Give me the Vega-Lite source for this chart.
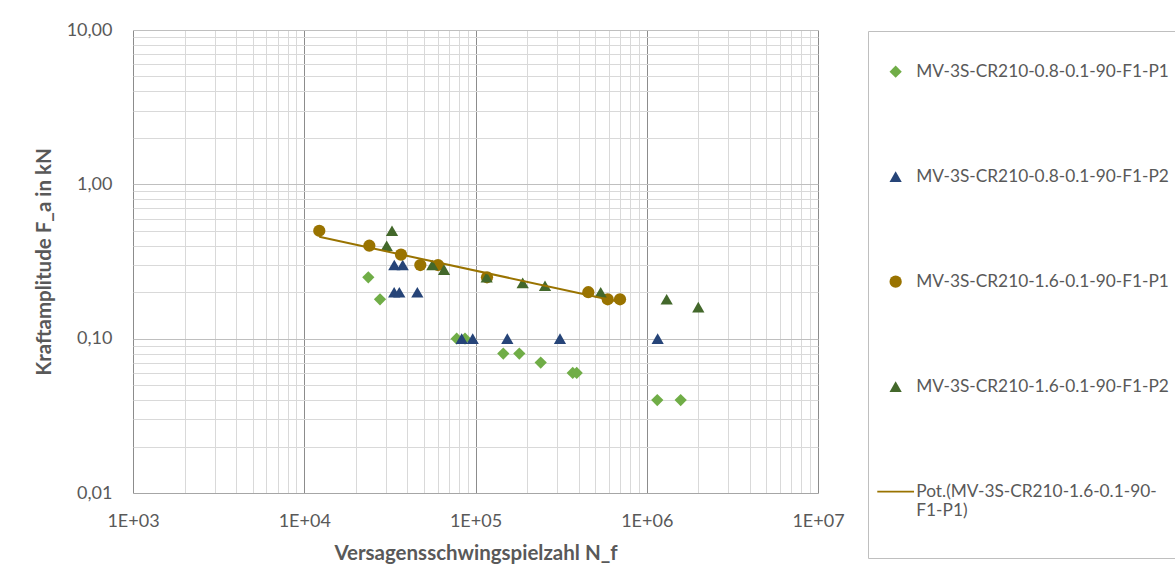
{
  "$schema": "https://vega.github.io/schema/vega-lite/v6.json",
  "width": 685,
  "height": 463,
  "autosize": {"type": "none"},
  "padding": {"left": 133, "top": 30, "right": 357, "bottom": 93},
  "background": "white",
  "config": {"view": {"stroke": null}, "font": "Lato"},
  "datasets": {
    "points": [
      {"series": "MV-3S-CR210-0.8-0.1-90-F1-P1", "N_f": 23660, "F_a": 0.25},
      {"series": "MV-3S-CR210-0.8-0.1-90-F1-P1", "N_f": 27690, "F_a": 0.18},
      {"series": "MV-3S-CR210-0.8-0.1-90-F1-P1", "N_f": 77650, "F_a": 0.1},
      {"series": "MV-3S-CR210-0.8-0.1-90-F1-P1", "N_f": 86850, "F_a": 0.1},
      {"series": "MV-3S-CR210-0.8-0.1-90-F1-P1", "N_f": 145300, "F_a": 0.08},
      {"series": "MV-3S-CR210-0.8-0.1-90-F1-P1", "N_f": 180200, "F_a": 0.08},
      {"series": "MV-3S-CR210-0.8-0.1-90-F1-P1", "N_f": 240300, "F_a": 0.07},
      {"series": "MV-3S-CR210-0.8-0.1-90-F1-P1", "N_f": 369600, "F_a": 0.06},
      {"series": "MV-3S-CR210-0.8-0.1-90-F1-P1", "N_f": 389900, "F_a": 0.06},
      {"series": "MV-3S-CR210-0.8-0.1-90-F1-P1", "N_f": 1152000, "F_a": 0.04},
      {"series": "MV-3S-CR210-0.8-0.1-90-F1-P1", "N_f": 1578000, "F_a": 0.04},
      {"series": "MV-3S-CR210-0.8-0.1-90-F1-P2", "N_f": 33560, "F_a": 0.3},
      {"series": "MV-3S-CR210-0.8-0.1-90-F1-P2", "N_f": 37580, "F_a": 0.3},
      {"series": "MV-3S-CR210-0.8-0.1-90-F1-P2", "N_f": 33500, "F_a": 0.2},
      {"series": "MV-3S-CR210-0.8-0.1-90-F1-P2", "N_f": 35900, "F_a": 0.2},
      {"series": "MV-3S-CR210-0.8-0.1-90-F1-P2", "N_f": 45740, "F_a": 0.2},
      {"series": "MV-3S-CR210-0.8-0.1-90-F1-P2", "N_f": 83050, "F_a": 0.1},
      {"series": "MV-3S-CR210-0.8-0.1-90-F1-P2", "N_f": 96300, "F_a": 0.1},
      {"series": "MV-3S-CR210-0.8-0.1-90-F1-P2", "N_f": 153400, "F_a": 0.1},
      {"series": "MV-3S-CR210-0.8-0.1-90-F1-P2", "N_f": 311400, "F_a": 0.1},
      {"series": "MV-3S-CR210-0.8-0.1-90-F1-P2", "N_f": 1158000, "F_a": 0.1},
      {"series": "MV-3S-CR210-1.6-0.1-90-F1-P1", "N_f": 12240, "F_a": 0.5},
      {"series": "MV-3S-CR210-1.6-0.1-90-F1-P1", "N_f": 23990, "F_a": 0.4},
      {"series": "MV-3S-CR210-1.6-0.1-90-F1-P1", "N_f": 36730, "F_a": 0.35},
      {"series": "MV-3S-CR210-1.6-0.1-90-F1-P1", "N_f": 47620, "F_a": 0.3},
      {"series": "MV-3S-CR210-1.6-0.1-90-F1-P1", "N_f": 60400, "F_a": 0.3},
      {"series": "MV-3S-CR210-1.6-0.1-90-F1-P1", "N_f": 116700, "F_a": 0.25},
      {"series": "MV-3S-CR210-1.6-0.1-90-F1-P1", "N_f": 455800, "F_a": 0.2},
      {"series": "MV-3S-CR210-1.6-0.1-90-F1-P1", "N_f": 591600, "F_a": 0.18},
      {"series": "MV-3S-CR210-1.6-0.1-90-F1-P1", "N_f": 698000, "F_a": 0.18},
      {"series": "MV-3S-CR210-1.6-0.1-90-F1-P2", "N_f": 32540, "F_a": 0.5},
      {"series": "MV-3S-CR210-1.6-0.1-90-F1-P2", "N_f": 30300, "F_a": 0.4},
      {"series": "MV-3S-CR210-1.6-0.1-90-F1-P2", "N_f": 55950, "F_a": 0.3},
      {"series": "MV-3S-CR210-1.6-0.1-90-F1-P2", "N_f": 65500, "F_a": 0.28},
      {"series": "MV-3S-CR210-1.6-0.1-90-F1-P2", "N_f": 116200, "F_a": 0.25},
      {"series": "MV-3S-CR210-1.6-0.1-90-F1-P2", "N_f": 188600, "F_a": 0.23},
      {"series": "MV-3S-CR210-1.6-0.1-90-F1-P2", "N_f": 254600, "F_a": 0.22},
      {"series": "MV-3S-CR210-1.6-0.1-90-F1-P2", "N_f": 538300, "F_a": 0.2},
      {"series": "MV-3S-CR210-1.6-0.1-90-F1-P2", "N_f": 1307000, "F_a": 0.18},
      {"series": "MV-3S-CR210-1.6-0.1-90-F1-P2", "N_f": 2000000, "F_a": 0.16}
    ],
    "trend": [
      {"N_f": 12240, "F_a": 0.457},
      {"N_f": 698000, "F_a": 0.173}
    ]
  },
  "layer": [
    {
      "data": {"name": "points"},
      "mark": {"type": "point", "filled": true, "opacity": 1, "size": 150},
      "encoding": {
        "x": {
          "field": "N_f", "type": "quantitative",
          "scale": {"type": "log", "domain": [1000, 10000000], "nice": false},
          "axis": {
            "title": "Versagensschwingspielzahl N_f",
            "values": [1000, 2000, 3000, 4000, 5000, 6000, 7000, 8000, 9000, 10000, 20000, 30000, 40000, 50000, 60000, 70000, 80000, 90000, 100000, 200000, 300000, 400000, 500000, 600000, 700000, 800000, 900000, 1000000, 2000000, 3000000, 4000000, 5000000, 6000000, 7000000, 8000000, 9000000, 10000000],
            "labelExpr": "abs(log(datum.value)/LN10 - round(log(datum.value)/LN10)) < 0.000001 ? '1E+0' + round(log(datum.value)/LN10) : ''",
            "grid": true,
            "gridColor": {"condition": {"test": "abs(log(datum.value)/LN10 - round(log(datum.value)/LN10)) < 0.000001", "value": "#8C8C8C"}, "value": "#D9D9D9"},
            "gridWidth": 1,
            "ticks": false,
            "tickSize": 0,
            "domain": true,
            "domainColor": "#A6A6A6",
            "labelFont": "Lato",
            "labelFontSize": 18,
            "labelColor": "#595959",
            "labelPadding": 19,
            "labelFlush": false,
            "labelOverlap": false,
            "titleFont": "Lato",
            "titleFontSize": 20.5,
            "titleFontWeight": "bold",
            "titleColor": "#595959",
            "titlePadding": 13
          }
        },
        "y": {
          "field": "F_a", "type": "quantitative",
          "scale": {"type": "log", "domain": [0.01, 10], "nice": false},
          "axis": {
            "title": "Kraftamplitude F_a in kN",
            "values": [0.01, 0.02, 0.03, 0.04, 0.05, 0.06, 0.07, 0.08, 0.09, 0.1, 0.2, 0.3, 0.4, 0.5, 0.6, 0.7, 0.8, 0.9, 1, 2, 3, 4, 5, 6, 7, 8, 9, 10],
            "labelExpr": "abs(log(datum.value)/LN10 - round(log(datum.value)/LN10)) < 0.000001 ? replace(format(datum.value, '.2f'), '.', ',') : ''",
            "grid": true,
            "gridColor": {"condition": {"test": "abs(log(datum.value)/LN10 - round(log(datum.value)/LN10)) < 0.000001", "value": "#BFBFBF"}, "value": "#D9D9D9"},
            "gridWidth": 1,
            "ticks": false,
            "tickSize": 0,
            "domain": false,
            "labelFont": "Lato",
            "labelFontSize": 18,
            "labelColor": "#595959",
            "labelPadding": 21,
            "labelOverlap": false,
            "labelFlush": false,
            "titleFont": "Lato",
            "titleFontSize": 20.5,
            "titleFontWeight": "bold",
            "titleColor": "#595959",
            "titlePadding": 12
          }
        },
        "color": {
          "field": "series", "type": "nominal",
          "scale": {
            "domain": ["MV-3S-CR210-0.8-0.1-90-F1-P1", "MV-3S-CR210-0.8-0.1-90-F1-P2", "MV-3S-CR210-1.6-0.1-90-F1-P1", "MV-3S-CR210-1.6-0.1-90-F1-P2", "Pot.(MV-3S-CR210-1.6-0.1-90-F1-P1)"],
            "range": ["#70AD47", "#264478", "#997300", "#43682B", "#997300"]
          },
          "legend": {
            "title": " ",
            "titleFontSize": 8,
            "titlePadding": 5,
            "orient": "none",
            "legendX": 735,
            "legendY": 1,
            "padding": 19,
            "strokeColor": "#BFBFBF",
            "symbolSize": 150,
            "symbolStrokeWidth": 0,
            "labelFont": "Lato",
            "labelFontSize": 17.3,
            "labelColor": "#595959",
            "labelOffset": 12,
            "labelLimit": 400,
            "rowPadding": 87,
            "labelExpr": "indexof(datum.label, 'Pot') == 0 ? ['Pot.(MV-3S-CR210-1.6-0.1-90-', 'F1-P1)', ' '] : datum.label"
          }
        },
        "shape": {
          "field": "series", "type": "nominal",
          "scale": {
            "domain": ["MV-3S-CR210-0.8-0.1-90-F1-P1", "MV-3S-CR210-0.8-0.1-90-F1-P2", "MV-3S-CR210-1.6-0.1-90-F1-P1", "MV-3S-CR210-1.6-0.1-90-F1-P2", "Pot.(MV-3S-CR210-1.6-0.1-90-F1-P1)"],
            "range": ["diamond", "triangle-up", "circle", "triangle-up", "M-3,-0.14H3V0.14H-3Z"]
          },
          "legend": {
            "title": " ",
            "titleFontSize": 8,
            "titlePadding": 5,
            "orient": "none",
            "legendX": 735,
            "legendY": 1,
            "padding": 19,
            "strokeColor": "#BFBFBF",
            "symbolSize": 150,
            "symbolStrokeWidth": 0,
            "labelFont": "Lato",
            "labelFontSize": 17.3,
            "labelColor": "#595959",
            "labelOffset": 12,
            "labelLimit": 400,
            "rowPadding": 87,
            "labelExpr": "indexof(datum.label, 'Pot') == 0 ? ['Pot.(MV-3S-CR210-1.6-0.1-90-', 'F1-P1)', ' '] : datum.label"
          }
        }
      }
    },
    {
      "data": {"name": "trend"},
      "mark": {"type": "line", "color": "#997300", "strokeWidth": 2},
      "encoding": {
        "x": {"field": "N_f", "type": "quantitative", "scale": {"type": "log", "domain": [1000, 10000000], "nice": false}},
        "y": {"field": "F_a", "type": "quantitative", "scale": {"type": "log", "domain": [0.01, 10], "nice": false}}
      }
    }
  ]
}
